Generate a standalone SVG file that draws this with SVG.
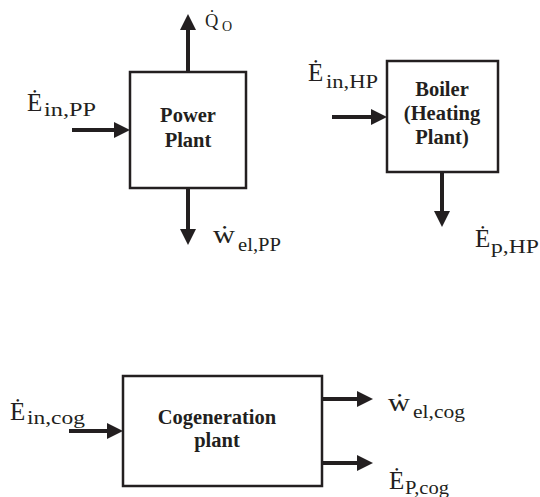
<svg xmlns="http://www.w3.org/2000/svg" width="540" height="497" viewBox="0 0 540 497">
<style>
.box{fill:#fff;stroke:#231f20;stroke-width:2.5}
.shaft{stroke:#231f20;stroke-width:4;fill:none}
.name{font-family:'Liberation Serif','Times New Roman',Times,'DejaVu Serif',serif;font-weight:bold;font-size:20.5px;fill:#231f20;text-anchor:middle}
.lbl{font-family:'Liberation Serif','Times New Roman',Times,'DejaVu Serif',serif;fill:#231f20}
.big{font-size:25px}
.sub{font-size:18.5px}
.w{font-size:25px}
</style>
<defs>
<marker id="ah" viewBox="0 0 16 16" refX="0" refY="8" markerWidth="16" markerHeight="16" markerUnits="userSpaceOnUse" orient="auto">
<path d="M0,0 L16,8 L0,16 z" fill="#231f20"/>
</marker>
</defs>
<rect width="540" height="497" fill="#fff"/>
<g id="connectors">
<line class="shaft" x1="188" y1="72" x2="188" y2="30" marker-end="url(#ah)"/>
<line class="shaft" x1="72" y1="130" x2="114" y2="130" marker-end="url(#ah)"/>
<line class="shaft" x1="188" y1="188" x2="188" y2="229" marker-end="url(#ah)"/>
<line class="shaft" x1="332" y1="117" x2="371" y2="117" marker-end="url(#ah)"/>
<line class="shaft" x1="442" y1="172" x2="442" y2="211" marker-end="url(#ah)"/>
<line class="shaft" x1="69" y1="431" x2="107" y2="431" marker-end="url(#ah)"/>
<line class="shaft" x1="322" y1="399" x2="357" y2="399" marker-end="url(#ah)"/>
<line class="shaft" x1="322" y1="463" x2="357" y2="463" marker-end="url(#ah)"/>
</g>
<g id="power-plant">
<rect class="box" x="130" y="72" width="116" height="116"/>
<text class="name" x="188" y="122">Power</text>
<text class="name" x="188" y="147">Plant</text>
</g>
<g id="boiler">
<rect class="box" x="387" y="61" width="111" height="111"/>
<text class="name" x="442" y="96">Boiler</text>
<text class="name" x="442" y="120">(Heating</text>
<text class="name" x="442" y="144">Plant)</text>
</g>
<g id="cogeneration">
<rect class="box" x="123" y="376" width="199" height="110"/>
<text class="name" x="217" y="424">Cogeneration</text>
<text class="name" x="217" y="447">plant</text>
</g>
<g id="labels">
<text class="lbl"><tspan x="205" y="27" font-size="18.5px">Q̇</tspan><tspan x="222" y="31" font-size="14px">O</tspan></text>
<text class="lbl"><tspan class="big" x="27" y="111">Ė</tspan><tspan class="sub" x="44" y="116" textLength="52" lengthAdjust="spacingAndGlyphs">in,PP</tspan></text>
<text class="lbl"><tspan class="w" x="213" y="243" textLength="22" lengthAdjust="spacingAndGlyphs">ẇ</tspan><tspan class="sub" x="238" y="251" textLength="43" lengthAdjust="spacingAndGlyphs">el,PP</tspan></text>
<text class="lbl"><tspan class="big" x="308" y="81">Ė</tspan><tspan class="sub" x="326" y="88" textLength="52" lengthAdjust="spacingAndGlyphs">in,HP</tspan></text>
<text class="lbl"><tspan class="big" x="475" y="247">Ė</tspan><tspan class="sub" x="491" y="253" textLength="48" lengthAdjust="spacingAndGlyphs">p,HP</tspan></text>
<text class="lbl"><tspan class="big" x="10" y="420">Ė</tspan><tspan class="sub" x="27" y="424" textLength="58" lengthAdjust="spacingAndGlyphs">in,cog</tspan></text>
<text class="lbl"><tspan class="w" x="388" y="411" textLength="22" lengthAdjust="spacingAndGlyphs">ẇ</tspan><tspan class="sub" x="413" y="418" textLength="52" lengthAdjust="spacingAndGlyphs">el,cog</tspan></text>
<text class="lbl"><tspan class="big" x="389" y="489">Ė</tspan><tspan class="sub" x="405" y="494" textLength="44" lengthAdjust="spacingAndGlyphs">P,cog</tspan></text>
</g>
</svg>
